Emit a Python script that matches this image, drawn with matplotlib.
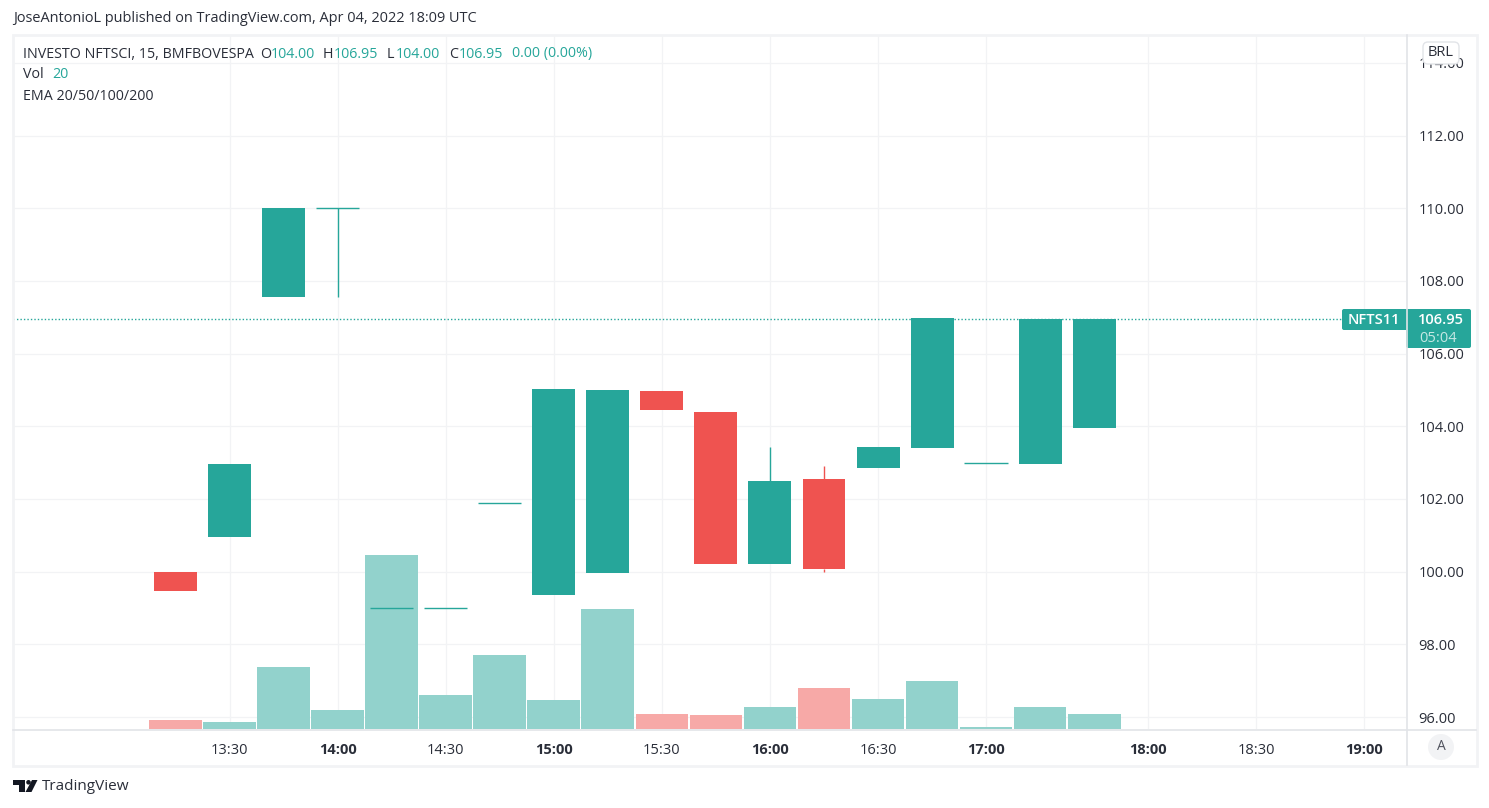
import matplotlib as mpl
import matplotlib.pyplot as plt
from matplotlib.patches import FancyBboxPatch, Rectangle, Polygon, Circle

mpl.rcParams['font.family'] = ['Open Sans', 'DejaVu Sans']

#######
# Data (one slot per 15 min bar, 17:45 is skipped)

slots = list(range(18))
opens = [100.0, 100.95, 107.56, 110.0, 99.0, 99.0, 101.9, 99.36, 99.97, 104.97, 104.4, 100.2, 102.55, 102.85, 103.4, 103.0, 102.96, 103.95]
highs = [100.0, 102.96, 110.0, 110.0, 99.0, 99.0, 101.9, 105.03, 105.0, 104.97, 104.4, 103.43, 102.9, 103.43, 106.97, 103.0, 106.95, 106.95]
lows = [99.47, 100.95, 107.56, 107.56, 99.0, 99.0, 101.9, 99.36, 99.97, 104.45, 100.2, 100.2, 100.0, 102.85, 103.4, 103.0, 102.96, 103.95]
closes = [99.47, 102.96, 110.0, 110.0, 99.0, 99.0, 101.9, 105.03, 105.0, 104.45, 100.2, 102.5, 100.08, 103.43, 106.97, 103.0, 106.95, 106.95]
rising = [False, True, True, True, True, True, True, True, True, False, False, True, False, True, True, True, True, True]
volumes = [12, 9, 83, 25, 232, 45, 99, 39, 160, 20, 19, 29, 55, 40, 64, 3, 29, 20]

price_ticks = [96, 98, 100, 102, 104, 106, 108, 110, 112, 114]
time_slots = [1, 3, 5, 7, 9, 11, 13, 15, 18, 20, 22]
time_labels = ["13:30", "14:00", "14:30", "15:00", "15:30", "16:00", "16:30", "17:00", "18:00", "18:30", "19:00"]
time_bold = [False, True, False, True, False, True, False, True, True, False, True]
last_price = 106.95

GREEN = "#26a69a"
RED = "#ef5350"
GRID = "#f2f3f5"
EDGE = "#e2e4e8"
TXT = "#2a2e39"
W, H = 1489, 808

fig = plt.figure(figsize=(W / 100, H / 100), dpi=100)
rect = [13 / W, 1 - 729 / H, (1406 - 13) / W, (729 - 35) / H]

#######
# Three layers: grid, volume, candles

ax_grid = fig.add_axes(rect, zorder=1)
ax_vol = fig.add_axes(rect, zorder=2)
ax = fig.add_axes(rect, zorder=3)
ax_vol.patch.set_alpha(0)
ax.patch.set_alpha(0)

for a in (ax_grid, ax_vol, ax):
    a.set_xlim(-3.007, 22.77)
    for s in a.spines.values():
        s.set_visible(False)

ax_grid.set_ylim(95.67, 114.77)
ax_grid.set_yticks(price_ticks)
ax_grid.set_xticks(time_slots)
ax_grid.set_xticklabels([])
ax_grid.set_yticklabels([])
ax_grid.tick_params(length=0)
ax_grid.grid(color=GRID, linewidth=0.9)
ax_grid.set_axisbelow(True)

ax_vol.set_ylim(0, 925)
ax_vol.axis("off")
vol_colors = ["#92d2cc" if r else "#f7a9a7" for r in rising]
ax_vol.bar(slots, volumes, width=0.975, color=vol_colors)

ax.set_ylim(95.67, 114.77)
ax.yaxis.tick_right()
ax.set_yticks(price_ticks)
ax.set_yticklabels(["%.2f" % p for p in price_ticks], fontsize=10.5, color=TXT)
ax.set_xticks(time_slots)
ax.set_xticklabels(time_labels, fontsize=10.5, color=TXT)
for lab, b in zip(ax.get_xticklabels(), time_bold):
    lab.set_fontweight("bold" if b else "normal")
ax.tick_params(length=0)
ax.tick_params(axis="y", pad=9)
ax.tick_params(axis="x", pad=10)

for i in slots:
    c = GREEN if rising[i] else RED
    top = max(opens[i], closes[i])
    bottom = min(opens[i], closes[i])
    # wicks only where they stick out of the body
    if highs[i] > top:
        ax.vlines(i, top, highs[i], color=c, linewidth=1)
    if lows[i] < bottom:
        ax.vlines(i, lows[i], bottom, color=c, linewidth=1)
    if opens[i] == closes[i]:
        ax.hlines(opens[i], i - 0.4, i + 0.4, color=c, linewidth=1)
    else:
        ax.bar(i, top - bottom, bottom=bottom, width=0.795, color=c)

ax.axhline(last_price, color=GREEN, linewidth=1, linestyle=(0, (1, 1.5)))

#######
# Chrome in pixel coordinates

px = fig.add_axes([0, 0, 1, 1], zorder=5)
px.set_xlim(0, W)
px.set_ylim(H, 0)
px.axis("off")

px.add_patch(Rectangle((12.5, 34.5), 1464, 731, fill=False, edgecolor=GRID, linewidth=2))
px.plot([13, 1476], [729.5, 729.5], color=EDGE, linewidth=1.2)
px.plot([1406.5, 1406.5], [35, 765], color=EDGE, linewidth=1.2)


def tag(x0, y0, x1, y1, color):
    px.add_patch(FancyBboxPatch((x0 + 2, y0 + 2), x1 - x0 - 4, y1 - y0 - 4, boxstyle="round,pad=2,rounding_size=2",
                                facecolor=color, edgecolor="none"))


tag(1342, 309, 1410, 330, GREEN)
tag(1406, 309, 1471, 348, GREEN)
px.text(1374, 320, "NFTS11", color="white", fontsize=10.5, fontweight="semibold", ha="center", va="center")
px.text(1441, 320, "106.95", color="white", fontsize=10.5, fontweight="semibold", ha="center", va="center")
px.text(1438, 338, "05:04", color="#c5e8e4", fontsize=10.5, ha="center", va="center")

px.add_patch(FancyBboxPatch((1427, 46), 28, 14, boxstyle="round,pad=4,rounding_size=5",
                            facecolor="white", edgecolor=EDGE, linewidth=1))
px.text(1441, 53, "BRL", color=TXT, fontsize=10.5, ha="center", va="center")
px.add_patch(Circle((1441, 747), 13, facecolor=GRID, edgecolor="none"))
px.text(1441, 747, "A", color="#50535e", fontsize=10, ha="center", va="center")

px.text(13, 19, "JoseAntonioL published on TradingView.com, Apr 04, 2022 18:09 UTC", color=TXT, fontsize=10.45, va="center")

legend_row = [(23, "INVESTO NFTSCI, 15, BMFBOVESPA", TXT), (260, "O", TXT), (271, "104.00", GREEN), (323, "H", TXT),
              (334, "106.95", GREEN), (387, "L", TXT), (396, "104.00", GREEN), (449, "C", TXT), (459, "106.95", GREEN),
              (512, "0.00 (0.00%)", GREEN)]
for x, s, c in legend_row:
    px.text(x, 54, s, color=c, fontsize=10.3, va="center")
px.text(23, 74, "Vol", color=TXT, fontsize=10.3, va="center")
px.text(52, 74, "20", color=GREEN, fontsize=10.3, va="center")
px.text(23, 96, "EMA 20/50/100/200", color=TXT, fontsize=10.3, va="center")

# TradingView logo
px.add_patch(Polygon([(13, 780), (25, 780), (25, 792), (19, 792), (19, 785), (13, 785)], facecolor="#131722"))
px.add_patch(Circle((28.5, 782.3), 2.3, facecolor="#131722"))
px.add_patch(Polygon([(32, 780), (37.5, 780), (31.5, 792), (25.5, 792)], facecolor="#131722"))
px.text(42, 787, "TradingView", color=TXT, fontsize=11, va="center")

plt.savefig("out.png", dpi=100)
